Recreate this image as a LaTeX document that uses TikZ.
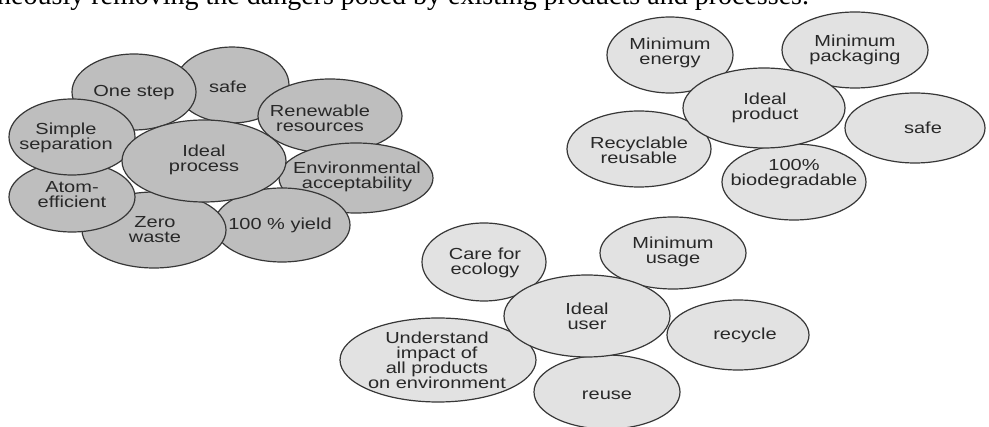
\documentclass[tikz,border=0pt]{standalone}
\usepackage{fontspec}
\setmainfont{Liberation Serif}
\newfontfamily\lab[FakeStretch=1.25]{Liberation Sans}
\usetikzlibrary{shapes.geometric}
\definecolor{edgec}{RGB}{55,55,55}
\definecolor{darkfill}{RGB}{190,190,190}
\definecolor{lightfill}{RGB}{226,226,226}
\definecolor{textc}{RGB}{40,40,40}
\tikzset{
  bub/.style={ellipse, draw=edgec, line width=1.2pt, inner sep=0pt},
  darkbub/.style={bub, fill=darkfill},
  lightbub/.style={bub, fill=lightfill},
  lbl/.style={font=\lab\fontsize{16}{15}\selectfont, align=center, text=textc, inner sep=0pt},
}
\begin{document}
\begin{tikzpicture}[x=1pt,y=-1pt]
\useasboundingbox (0,0) rectangle (989,427);
\clip (0,0) rectangle (989,427);
\fill[white] (0,0) rectangle (989,427);
% heading fragment
\node[anchor=base west, inner sep=0pt, font=\fontsize{28}{30}\selectfont] (head) at (-3,5) {neously removing the dangers posed by existing products and processes.};
% ---------- process cluster ----------
\node[darkbub, minimum width=114, minimum height=76] (psafe) at (232,85) {};
\node[darkbub, minimum width=144, minimum height=74] (prenew) at (330,116) {};
\node[darkbub, minimum width=154, minimum height=70] (penv) at (356,178) {};
\node[darkbub, minimum width=136, minimum height=74] (pyield) at (282,225) {};
\node[darkbub, minimum width=144, minimum height=76] (pzero) at (154,230) {};
\node[darkbub, minimum width=126, minimum height=70] (patom) at (72,197) {};
\node[darkbub, minimum width=124, minimum height=76] (pone) at (134,92) {};
\node[darkbub, minimum width=126, minimum height=76] (psimple) at (72,137) {};
\node[darkbub, minimum width=164, minimum height=82] (pideal) at (204,161) {};
\node[lbl] (tpsafe) at (228,87) {safe};
\node[lbl] (tprenew) at (320,118) {Renewable\\resources};
\node[lbl] (tpenv) at (357,177) {Environmental\\acceptability};
\node[lbl] (tpyield) at (280,225) {100 \% yield};
\node[lbl] (tpzero) at (155,230) {Zero\\waste};
\node[lbl] (tpatom) at (72,195) {Atom-\\efficient};
\node[lbl] (tpone) at (134,93) {One step};
\node[lbl] (tpsimple) at (66,138) {Simple\\separation};
\node[lbl] (tpideal) at (204,160) {Ideal\\process};
% ---------- product cluster ----------
\node[lightbub, minimum width=126, minimum height=76] (qenergy) at (670,55) {};
\node[lightbub, minimum width=146, minimum height=76] (qpack) at (855,50) {};
\node[lightbub, minimum width=140, minimum height=70] (qsafe) at (915,128) {};
\node[lightbub, minimum width=144, minimum height=76] (qrecyc) at (639,149) {};
\node[lightbub, minimum width=144, minimum height=76] (qbio) at (794,182) {};
\node[lightbub, minimum width=162, minimum height=80] (qideal) at (764,108) {};
\node[lbl] (tqenergy) at (670,53) {Minimum\\energy};
\node[lbl] (tqpack) at (855,50) {Minimum\\packaging};
\node[lbl] (tqsafe) at (923,128) {safe};
\node[lbl] (tqrecyc) at (639,150) {Recyclable\\reusable};
\node[lbl] (tqbio) at (794,174) {100\%\\biodegradable};
\node[lbl] (tqideal) at (765,108) {Ideal\\product};
% ---------- user cluster ----------
\node[lightbub, minimum width=124, minimum height=78] (ucare) at (484,262) {};
\node[lightbub, minimum width=146, minimum height=72] (uusage) at (673,253) {};
\node[lightbub, minimum width=142, minimum height=70] (urecyc) at (738,335) {};
\node[lightbub, minimum width=196, minimum height=84] (uunder) at (438,360) {};
\node[lightbub, minimum width=146, minimum height=74] (ureuse) at (607,392) {};
\node[lightbub, minimum width=166, minimum height=82] (uideal) at (587,316) {};
\node[lbl] (tucare) at (485,263) {Care for\\ecology};
\node[lbl] (tuusage) at (673,252) {Minimum\\usage};
\node[lbl] (turecyc) at (745,335) {recycle};
\node[lbl] (tuunder) at (437,360) {Understand\\impact of\\all products\\on environment};
\node[lbl] (tureuse) at (607,395) {reuse};
\node[lbl] (tuideal) at (587,316) {Ideal\\user};
\end{tikzpicture}
\end{document}
